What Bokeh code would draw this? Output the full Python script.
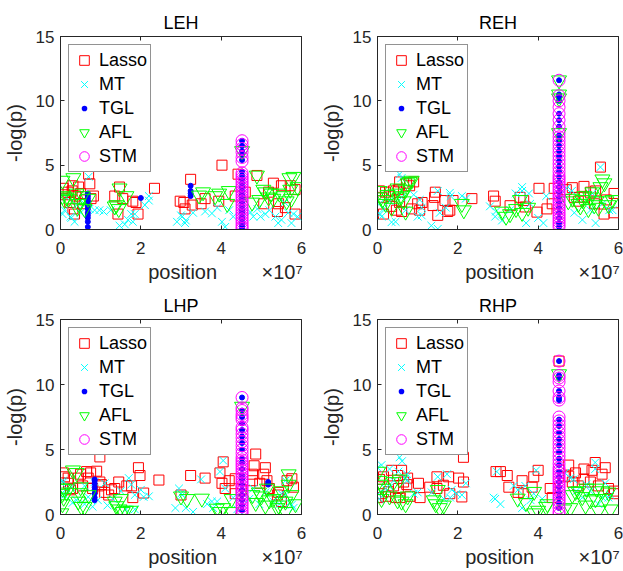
import numpy as np
from bokeh.plotting import figure
from bokeh.layouts import gridplot
from bokeh.models import Legend, LegendItem, LinearAxis, FixedTicker, Range1d, CustomJSTickFormatter
from bokeh.embed import file_html
from bokeh.resources import INLINE

# ---------------- data (position in units of 1e7, -log(p)) ----------------
SERIES_NAMES = ["Lasso", "MT", "TGL", "AFL", "STM"]
X_TICKS = [0, 2, 4, 6]
Y_TICKS = [0, 5, 10, 15]
X_LABEL = "position"
X_SCALE_TEXT = "×10⁷"
Y_LABEL = "-log(p)"
PEAK_POS = 4.52

LEH_LASSO = [(0.07,3.2),(0.1,2.7),(0.19,2.9),(0.23,2.1),(0.29,3.0),(0.31,3.4),(0.31,1.6),(0.35,1.2),(0.38,2.6),(0.45,3.3),(0.5,2.8),(0.55,2.0),(0.6,2.3),(0.7,4.3),(0.73,3.55),(0.76,2.4),(0.82,2.6),(1.35,2.6),(1.43,1.2),(1.47,3.3),(1.55,2.4),(1.8,2.2),(1.88,2.1),(1.93,1.2),(2.34,3.2),(2.98,2.2),(3.07,2.1),(3.1,1.6),(3.24,3.9),(3.28,1.9),(3.5,2.0),(3.6,2.4),(3.94,2.2),(4.02,5.0),(4.35,2.6),(4.42,4.3),(4.6,2.9),(4.89,4.2),(5.06,2.0),(5.18,2.9),(5.3,3.6),(5.43,2.0),(5.5,3.4),(5.6,1.7),(5.72,3.4),(5.84,3.1),(5.84,1.2),(5.4,1.4)]
LEH_MT = [(0.05,1.2),(0.1,1.5),(0.15,2.5),(0.25,1.0),(0.27,0.9),(0.35,0.6),(0.4,1.9),(0.5,1.3),(0.6,2.0),(0.7,4.1),(0.72,1.6),(0.85,1.5),(0.97,1.5),(1.07,1.4),(1.25,1.5),(1.47,0.3),(1.6,0.4),(1.68,0.75),(1.76,1.2),(1.8,0.6),(1.85,1.2),(2.1,1.9),(2.2,2.25),(2.2,2.6),(2.9,0.6),(3.0,1.1),(3.03,1.0),(3.12,0.7),(3.1,0.5),(3.3,1.3),(3.6,1.4),(3.77,1.25),(3.9,1.7),(4.02,0.6),(4.1,0.2),(4.2,1.5),(4.3,1.0),(4.73,1.35),(4.8,1.0),(4.9,1.6),(4.98,1.0),(5.1,1.2),(5.2,1.5),(5.35,1.0),(5.42,0.5),(5.5,0.75),(5.58,2.1),(5.67,1.3),(5.75,0.5),(5.8,1.2),(5.9,1.0)]
LEH_TGL = [(0.68,0.2),(0.68,0.6),(0.68,0.9),(0.68,1.1),(0.68,1.3),(0.68,1.6),(0.68,1.8),(0.68,2.0),(0.68,2.2),(0.68,2.4),(0.68,2.6),(0.68,2.8),(2.0,2.45),(3.24,2.6),(3.24,2.8),(3.24,3.0),(3.24,3.4)]
LEH_TGL_PEAK = [0.1,0.3,0.5,0.8,1.0,1.3,1.5,1.8,2.1,2.4,2.7,3.0,3.3,3.6,3.9,4.2,4.5,5.4,5.8,6.1,6.5,6.9]
LEH_AFL = [(0.05,3.8),(0.05,2.6),(0.1,2.3),(0.15,2.5),(0.2,2.4),(0.32,4.0),(0.4,2.8),(0.42,1.7),(0.45,2.0),(0.55,2.6),(0.6,1.6),(0.69,2.4),(1.35,1.8),(1.39,1.9),(1.45,1.6),(1.47,3.2),(1.64,2.6),(3.45,2.65),(3.55,2.9),(3.85,2.6),(3.95,2.8),(4.15,2.0),(4.19,3.0),(4.52,6.1),(4.77,2.1),(4.89,4.2),(4.95,2.3),(5.05,3.1),(5.1,2.9),(5.18,2.5),(5.25,2.8),(5.3,2.4),(5.45,2.8),(5.55,2.6),(5.63,2.2),(5.7,4.0),(5.72,3.1),(5.8,4.1),(5.9,3.3),(5.75,2.4)]
LEH_STM_PEAK = [0.05,0.2,0.4,0.6,0.8,1.0,1.2,1.4,1.6,1.8,2.0,2.2,2.4,2.6,2.8,3.0,3.2,3.4,3.6,3.8,4.0,4.2,4.4,5.3,5.6,6.0,6.3,6.6,6.9]

REH_LASSO = [(0.05,3.0),(0.1,2.5),(0.15,1.2),(0.2,2.9),(0.3,2.6),(0.35,1.8),(0.4,3.0),(0.47,1.5),(0.52,3.1),(0.55,2.1),(0.6,1.4),(0.55,3.7),(0.72,3.6),(0.8,3.4),(0.85,1.6),(0.9,3.7),(1.0,2.0),(1.05,1.5),(1.11,2.1),(1.38,1.86),(1.42,2.5),(1.44,2.9),(1.5,1.1),(1.68,2.25),(1.75,1.4),(1.8,1.5),(1.88,2.25),(2.35,2.4),(2.89,2.6),(2.93,2.2),(3.3,1.85),(3.55,2.5),(3.64,2.25),(3.68,1.75),(3.97,1.35),(4.02,3.2),(4.22,1.6),(4.35,2.0),(4.4,3.2),(4.7,3.1),(4.85,3.25),(4.9,2.5),(5.0,2.2),(5.14,3.35),(5.14,2.5),(5.3,2.9),(5.43,3.0),(5.55,4.85),(5.64,1.2),(5.7,2.3),(5.89,2.8),(5.89,1.3),(5.4,2.0)]
REH_MT = [(0.05,2.0),(0.07,1.2),(0.1,1.0),(0.15,1.6),(0.3,2.2),(0.35,0.57),(0.45,0.6),(0.55,4.3),(0.6,4.0),(0.6,2.5),(0.7,1.5),(0.9,2.7),(1.0,1.0),(1.05,2.3),(1.1,1.7),(1.1,1.1),(1.34,0.3),(1.5,0.05),(1.55,1.3),(1.5,3.0),(1.7,1.7),(1.8,2.85),(1.82,2.6),(2.2,2.4),(2.1,2.6),(2.8,1.8),(2.93,1.0),(2.95,1.4),(3.1,0.7),(3.3,1.5),(3.44,2.8),(3.6,3.0),(3.77,2.8),(3.6,3.3),(3.7,0.5),(3.8,2.0),(4.0,0.9),(4.13,0.5),(4.2,2.6),(4.7,3.2),(4.84,3.0),(4.9,1.3),(5.1,0.75),(5.3,1.5),(5.35,2.8),(5.43,0.5),(5.55,4.85),(5.6,2.0),(5.77,1.5),(5.85,1.5)]
REH_TGL = []
REH_TGL_PEAK = [0.2,0.5,0.9,1.3,1.7,2.1,2.5,2.9,3.3,3.7,4.1,4.5,4.9,5.3,5.7,6.1,6.5,6.9,7.3,8.0,8.5,9.0,10.0,10.3,10.5,11.6]
REH_AFL = [(0.05,3.0),(0.08,2.5),(0.12,2.3),(0.2,2.0),(0.25,2.7),(0.35,1.7),(0.45,2.8),(0.5,3.2),(0.55,2.5),(0.6,2.6),(0.65,2.2),(0.7,3.1),(0.7,1.4),(0.75,3.6),(0.8,3.7),(0.85,3.8),(2.1,2.0),(2.15,1.5),(3.1,1.4),(3.2,1.0),(3.3,1.2),(3.45,1.6),(3.55,2.3),(3.6,1.3),(3.75,1.7),(4.52,11.6),(4.52,10.5),(4.52,10.2),(4.52,7.5),(4.75,2.2),(4.85,2.4),(5.0,2.0),(5.05,1.8),(5.1,2.3),(5.15,2.6),(5.25,1.6),(5.3,2.5),(5.35,2.9),(5.4,1.9),(5.45,2.2),(5.5,1.7),(5.55,3.3),(5.6,3.9),(5.65,3.6),(5.7,2.2),(5.75,1.9),(5.85,2.3)]
REH_STM_PEAK = [0.2,0.4,0.6,0.8,1.0,1.2,1.4,1.6,1.8,2.0,2.2,2.4,2.6,2.8,3.0,3.2,3.4,3.6,3.8,4.0,4.2,4.5,4.8,5.1,5.4,5.7,6.0,6.3,6.6,6.9,7.2,7.5,8.0,8.5,9.0,9.5,10.0,10.4,11.6]

LHP_LASSO = [(0.07,3.2),(0.1,2.9),(0.19,2.8),(0.2,2.4),(0.25,1.9),(0.3,2.0),(0.44,2.8),(0.5,3.1),(0.55,2.2),(0.65,3.3),(0.69,2.8),(0.75,3.2),(0.8,2.0),(0.9,3.33),(0.95,2.2),(0.98,4.43),(0.98,2.5),(1.02,2.3),(1.1,1.7),(1.2,1.5),(1.27,1.9),(1.35,2.0),(1.45,2.5),(1.65,2.2),(1.77,2.2),(1.8,1.3),(1.94,3.6),(1.98,3.0),(2.07,1.65),(2.45,2.65),(3.0,1.5),(3.24,3.0),(3.6,2.8),(3.97,3.2),(4.02,2.4),(4.05,4.05),(4.1,2.0),(4.2,2.6),(4.35,2.75),(4.35,1.6),(4.5,1.9),(4.78,3.1),(4.78,2.6),(4.82,3.75),(4.86,4.65),(4.96,2.4),(5.06,3.1),(5.1,3.6),(5.14,2.6),(5.2,2.0),(5.4,1.5),(5.43,1.7),(5.5,1.0),(5.64,2.6),(5.76,2.75),(5.8,2.1)]
LHP_MT = [(0.0,1.5),(0.05,2.6),(0.07,2.5),(0.1,1.5),(0.15,2.0),(0.27,2.1),(0.3,0.9),(0.4,1.1),(0.6,2.2),(0.6,0.8),(0.69,1.35),(0.8,0.6),(0.85,2.5),(0.93,1.1),(1.1,2.4),(1.17,0.7),(1.3,1.2),(1.5,1.8),(1.63,0.4),(1.7,2.8),(1.76,2.3),(1.85,1.5),(1.85,0.4),(2.0,1.9),(2.07,1.35),(2.2,1.4),(2.86,0.5),(2.95,2.0),(3.0,1.6),(3.03,1.5),(3.12,0.5),(3.3,0.2),(3.5,2.7),(3.65,0.8),(3.77,1.0),(3.8,0.5),(3.9,1.0),(3.97,3.3),(4.05,4.15),(4.1,2.0),(4.3,1.3),(4.4,0.4),(4.7,1.2),(4.8,2.0),(4.95,0.8),(5.1,1.7),(5.3,1.0),(5.45,0.8),(5.5,1.6),(5.6,1.5),(5.6,2.6),(5.7,0.9),(5.76,0.75),(5.8,0.5)]
LHP_TGL = [(0.85,1.1),(0.85,1.3),(0.85,1.6),(0.85,1.9),(0.85,2.1),(0.85,2.4),(0.85,2.6),(0.85,2.7),(5.17,2.3),(5.17,2.5)]
LHP_TGL_PEAK = [0.3,0.7,1.1,1.5,1.9,2.3,2.7,3.0,3.5,4.0,4.3,5.0,5.5,6.0,6.5,7.0,7.5,8.0,9.0]
LHP_AFL = [(0.02,0.1),(0.05,2.0),(0.05,1.6),(0.05,0.8),(0.08,1.3),(0.1,2.0),(0.15,1.7),(0.31,3.4),(0.4,3.2),(0.44,1.0),(0.48,1.65),(0.5,2.1),(0.52,0.6),(0.6,0.6),(0.7,1.5),(1.35,1.0),(1.39,0.65),(1.47,0.4),(1.5,1.2),(1.55,0.2),(1.63,0.3),(1.75,0.3),(3.0,1.4),(3.15,1.2),(3.52,1.23),(3.89,0.46),(3.97,0.2),(4.05,0.5),(4.26,1.2),(4.26,0.2),(4.52,8.3),(4.78,1.5),(4.86,0.9),(4.94,1.7),(5.0,1.4),(5.1,0.7),(5.14,2.0),(5.2,1.1),(5.3,1.2),(5.4,0.5),(5.43,0.7),(5.5,1.8),(5.6,0.2),(5.6,1.0),(5.68,3.1),(5.68,2.3),(5.75,1.5),(5.85,0.8)]
LHP_STM_PEAK = [0.0,0.2,0.4,0.6,0.8,1.0,1.2,1.4,1.6,1.8,2.0,2.2,2.4,2.6,2.8,3.0,3.2,3.4,3.6,3.8,4.0,4.2,4.4,4.7,5.0,5.3,5.6,5.9,6.2,6.5,6.7,7.3,7.5,7.7,8.0,8.2,9.0]

RHP_LASSO = [(0.02,1.3),(0.05,2.7),(0.1,1.6),(0.15,2.9),(0.2,1.4),(0.27,1.75),(0.35,3.4),(0.4,2.2),(0.45,1.3),(0.5,3.0),(0.52,2.0),(0.56,1.3),(0.6,3.4),(0.65,2.5),(0.73,2.3),(0.75,2.8),(0.81,1.4),(1.02,2.4),(1.06,1.3),(1.3,2.1),(1.48,2.9),(1.48,2.0),(1.64,2.25),(1.77,2.9),(1.8,1.6),(2.02,2.8),(2.1,1.35),(2.14,4.4),(2.14,2.5),(2.95,3.3),(3.06,3.3),(3.23,3.0),(3.27,2.1),(3.5,1.7),(3.6,2.6),(3.64,1.6),(3.85,2.1),(3.89,2.9),(4.0,3.4),(4.3,2.0),(4.35,1.3),(4.52,11.8),(4.65,2.9),(4.76,3.8),(4.76,2.95),(4.85,2.5),(4.93,3.2),(5.0,2.2),(5.14,3.5),(5.14,2.7),(5.3,2.5),(5.34,3.4),(5.42,4.0),(5.5,2.2),(5.59,3.1),(5.67,3.6),(5.75,2.0),(5.88,1.8),(5.9,1.6)]
RHP_MT = [(0.0,3.6),(0.02,1.6),(0.05,1.2),(0.1,3.8),(0.2,2.0),(0.31,2.1),(0.3,3.5),(0.4,2.6),(0.52,3.3),(0.55,4.4),(0.61,4.1),(0.7,2.8),(0.73,3.1),(0.73,2.6),(0.9,1.6),(1.0,1.7),(1.35,1.7),(1.5,2.9),(1.65,1.2),(1.73,3.1),(1.81,1.3),(1.85,1.9),(1.97,1.6),(2.1,1.5),(2.2,2.4),(2.89,1.3),(2.93,1.2),(2.97,3.3),(3.06,0.8),(3.39,2.2),(3.5,1.9),(3.6,0.5),(3.68,2.2),(3.81,1.1),(3.89,1.6),(3.95,3.4),(4.1,1.2),(4.67,3.2),(4.8,2.8),(4.88,2.7),(4.95,1.8),(5.1,1.3),(5.2,2.3),(5.3,1.8),(5.42,4.0),(5.42,3.5),(5.5,0.8),(5.6,1.3),(5.67,2.4),(5.75,1.3),(5.8,1.5)]
RHP_TGL = []
RHP_TGL_PEAK = [0.5,0.9,1.3,1.7,2.1,2.5,2.9,3.3,3.8,4.3,4.8,5.3,5.8,6.3,6.8,7.3,8.8,9.0,9.5,10.5,10.7,11.8]
RHP_AFL = [(0.02,3.3),(0.05,2.6),(0.08,2.3),(0.1,1.2),(0.15,2.0),(0.3,1.4),(0.4,2.5),(0.5,1.1),(0.55,2.7),(0.6,1.0),(0.7,0.8),(0.75,1.4),(1.4,1.1),(1.45,0.8),(1.5,1.9),(1.55,0.5),(1.65,0.7),(3.49,1.23),(3.7,0.9),(3.9,1.75),(3.9,0.1),(4.0,0.3),(4.2,0.6),(4.23,0.8),(4.52,10.8),(4.65,0.4),(4.8,0.5),(4.85,1.5),(4.93,1.75),(5.0,1.8),(5.1,1.35),(5.18,0.7),(5.2,2.0),(5.3,1.1),(5.43,1.2),(5.45,2.0),(5.5,0.3),(5.6,1.8),(5.67,1.2),(5.75,1.7),(5.8,0.4)]
RHP_STM_PEAK = [0.0,0.2,0.5,0.8,1.0,1.2,1.4,1.6,1.8,2.0,2.2,2.4,2.6,2.8,3.0,3.2,3.4,3.6,3.9,4.2,4.5,4.8,5.1,5.4,5.7,6.0,6.3,6.6,6.9,7.2,7.5,8.8,9.0,9.5,10.2,10.5,10.7,11.8]

PANELS = {
    "LEH": (LEH_LASSO, LEH_MT, LEH_TGL, LEH_TGL_PEAK, LEH_AFL, LEH_STM_PEAK),
    "REH": (REH_LASSO, REH_MT, REH_TGL, REH_TGL_PEAK, REH_AFL, REH_STM_PEAK),
    "LHP": (LHP_LASSO, LHP_MT, LHP_TGL, LHP_TGL_PEAK, LHP_AFL, LHP_STM_PEAK),
    "RHP": (RHP_LASSO, RHP_MT, RHP_TGL, RHP_TGL_PEAK, RHP_AFL, RHP_STM_PEAK),
}

# ---------------- styling ----------------
FONT = "Liberation Sans"
AX_COLOR = "#262626"
NBSP = "\u00a0"
STYLES = {
    "Lasso": dict(marker="square", size=10, line_color="#ff0000", fill_color=None),
    "MT": dict(marker="x", size=11, line_color="#00ffff", fill_color=None),
    "TGL": dict(marker="circle", size=5, line_color="#0000ff", fill_color="#0000ff"),
    "AFL": dict(marker="inverted_triangle", size=15, line_color="#00ff00", fill_color=None),
    "STM": dict(marker="circle", size=12, line_color="#ff00ff", fill_color=None),
}


def xy(pairs):
    if len(pairs) == 0:
        return [], []
    a = np.array(pairs, dtype=float)
    return list(a[:, 0]), list(a[:, 1])


def style_axis(ax, labels=True):
    ax.axis_line_color = AX_COLOR
    ax.axis_line_width = 1
    ax.major_tick_line_color = AX_COLOR
    ax.major_tick_in = 4
    ax.major_tick_out = 0
    ax.minor_tick_line_color = None
    ax.minor_tick_in = 0
    ax.minor_tick_out = 0
    if labels:
        ax.major_label_text_font = FONT
        ax.major_label_text_font_size = "17px"
        ax.major_label_text_color = AX_COLOR
        ax.axis_label_text_font = FONT
        ax.axis_label_text_font_size = "20px"
        ax.axis_label_text_font_style = "normal"
        ax.axis_label_text_color = AX_COLOR
    else:
        ax.formatter = CustomJSTickFormatter(code="return ''")
        ax.major_label_standoff = 0
        ax.axis_label_standoff = 0


def make_panel(name, width, height, top_border, right_border, bottom_border):
    lasso, mt, tgl, tgl_peak, afl, stm_peak = PANELS[name]
    p = figure(width=width, height=height, x_range=Range1d(0, 6), y_range=Range1d(0, 15),
               output_backend="svg", toolbar_location=None,
               x_axis_location=None, y_axis_location=None,
               min_border_left=59, min_border_right=right_border,
               min_border_top=top_border, min_border_bottom=bottom_border)
    p.grid.visible = False
    p.outline_line_color = AX_COLOR
    p.outline_line_width = 1
    p.background_fill_color = "white"
    p.border_fill_color = "white"

    p.title.text = name
    p.title.align = "center"
    p.title.text_font = FONT
    p.title.text_font_size = "18px"
    p.title.text_font_style = "normal"
    p.title.text_color = "#000000"
    p.title.standoff = 8

    # "position" centred under the frame, "×10⁷" towards the right end (non-breaking spaces)
    xlabel = NBSP * 16 + X_LABEL + NBSP * 8 + X_SCALE_TEXT
    xb = LinearAxis(ticker=FixedTicker(ticks=X_TICKS), axis_label=xlabel)
    style_axis(xb)
    xb.major_label_standoff = 12
    xb.axis_label_standoff = 4
    p.add_layout(xb, "below")
    yl = LinearAxis(ticker=FixedTicker(ticks=Y_TICKS), axis_label=Y_LABEL)
    style_axis(yl)
    yl.major_label_standoff = 6
    yl.axis_label_standoff = 7
    p.add_layout(yl, "left")
    # mirrored ticks along the top edge of the box
    xt = LinearAxis(ticker=FixedTicker(ticks=X_TICKS))
    style_axis(xt, labels=False)
    p.add_layout(xt, "above")

    tx, ty = xy(tgl)
    tx = tx + [PEAK_POS] * len(tgl_peak)
    ty = ty + list(tgl_peak)

    renderers = {}
    # legend swatch for TGL: blue disc with a white rim (drawn first, so it stays hidden under the marks)
    renderers["TGL_KEY"] = p.scatter(tx, ty, marker="circle", size=5, fill_color="#0000ff",
                                     line_color="white", line_width=4)
    lx, ly = xy(lasso)
    renderers["Lasso"] = p.scatter(lx, ly, line_width=1, **STYLES["Lasso"])
    mx, my = xy(mt)
    renderers["MT"] = p.scatter(mx, my, line_width=1, **STYLES["MT"])
    renderers["TGL"] = p.scatter(tx, ty, line_width=1, **STYLES["TGL"])
    ax_, ay = xy(afl)
    renderers["AFL"] = p.scatter(ax_, ay, line_width=1, **STYLES["AFL"])
    renderers["STM"] = p.scatter([PEAK_POS] * len(stm_peak), list(stm_peak), line_width=1, **STYLES["STM"])

    key_for = {"Lasso": "Lasso", "MT": "MT", "TGL": "TGL_KEY", "AFL": "AFL", "STM": "STM"}
    legend = Legend(items=[LegendItem(label=s, renderers=[renderers[key_for[s]]]) for s in SERIES_NAMES],
                    location="top_left")
    legend.margin = 8
    legend.padding = 3
    legend.spacing = 0
    legend.glyph_width = 24
    legend.glyph_height = 24
    legend.label_height = 20
    legend.label_standoff = 3
    legend.label_text_font = FONT
    legend.label_text_font_size = "18px"
    legend.label_text_color = "#000000"
    legend.border_line_color = AX_COLOR
    legend.border_line_width = 1
    legend.background_fill_color = "white"
    legend.background_fill_alpha = 1
    p.add_layout(legend)
    return p


p1 = make_panel("LEH", 317, 286, 36, 16, 57)
p2 = make_panel("REH", 306, 286, 36, 5, 57)
p3 = make_panel("LHP", 317, 284, 33, 16, 56)
p4 = make_panel("RHP", 306, 284, 33, 5, 56)

grid = gridplot([[p1, p2], [p3, p4]], toolbar_location=None)

with open("out.html", "w") as f:
    f.write(file_html(grid, INLINE))
